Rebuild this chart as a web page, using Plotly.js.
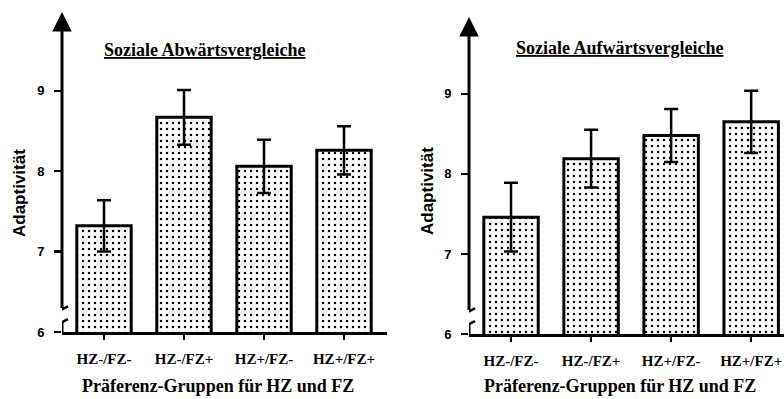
<!DOCTYPE html>
<html>
<head>
<meta charset="utf-8">
<script src="https://cdn.plot.ly/plotly-3.0.1.min.js"></script>
<style>html,body{margin:0;padding:0;background:#fff}#chart{width:784px;height:399px}</style>
</head>
<body>
<div id="chart"></div>
<script>
// ---- data ----
const categories = ['HZ-/FZ-', 'HZ-/FZ+', 'HZ+/FZ-', 'HZ+/FZ+'];
const downValues = [7.32, 8.67, 8.06, 8.26];
const downErrors = [0.32, 0.34, 0.33, 0.30];
const upValues = [7.46, 8.19, 8.48, 8.65];
const upErrors = [0.43, 0.36, 0.33, 0.39];
const yTicks = [6, 7, 8, 9];
const titleLeft = 'Soziale Abwärtsvergleiche';
const titleRight = 'Soziale Aufwärtsvergleiche';
const yTitle = 'Adaptivität';
const xTitle = 'Präferenz-Gruppen für HZ und FZ';

const serif = 'Liberation Serif, Times New Roman, serif';
const sans = 'Liberation Sans, Arial, sans-serif';

function barTrace(vals, errs, xa, ya) {
  return {
    type: 'bar', x: categories, y: vals, xaxis: xa, yaxis: ya, width: 0.68,
    showlegend: false, hoverinfo: 'none',
    marker: {
      color: '#ffffff',
      line: {color: '#000', width: 3},
      pattern: {shape: '.', fgcolor: '#000', bgcolor: '#fff', size: 6, solidity: 0.14, fillmode: 'replace'}
    },
    error_y: {type: 'data', array: errs, visible: true, color: '#000', thickness: 2.5, width: 7}
  };
}

const traces = [barTrace(downValues, downErrors, 'x', 'y'), barTrace(upValues, upErrors, 'x2', 'y2')];

const xLeftRange = [-0.525, 3.5375];
const xRightRange = [-0.525, 3.41];
const yLeftRange = [6, 9.98];
const yRightRange = [6, 9.96];

function xaxisDef(domain, range, anchor) {
  return {
    domain: domain, range: range, anchor: anchor, type: 'category',
    showline: true, linewidth: 3, linecolor: '#000', showgrid: false, zeroline: false,
    ticks: 'outside', ticklen: 5, tickwidth: 2, tickcolor: '#000',
    tickmode: 'array', tickvals: categories, ticktext: categories.map(c => '<b>' + c + '</b>'),
    ticklabelstandoff: 6,
    tickfont: {family: serif, size: 15, color: '#000'},
    fixedrange: true
  };
}
function yaxisDef(domain, range, anchor) {
  return {
    domain: domain, range: range, anchor: anchor,
    showline: false, showgrid: false, zeroline: false,
    tickmode: 'array', tickvals: yTicks, ticktext: yTicks.map(v => '<b>' + v + '</b>'),
    ticks: 'outside', ticklen: 7, tickwidth: 2.5, tickcolor: '#000',
    ticklabelstandoff: 7,
    tickfont: {family: sans, size: 13, color: '#000'},
    fixedrange: true
  };
}

function axisBreak(xref, yref, xAnchor) {
  const seg = (y0, y1, w) => ({type: 'line', xref: xref, yref: yref, xsizemode: 'pixel', xanchor: xAnchor,
    x0: 0, x1: 0, y0: y0, y1: y1, line: {color: '#000', width: w}});
  const slash = (y0, y1) => ({type: 'line', xref: xref, yref: yref, xsizemode: 'pixel', xanchor: xAnchor,
    x0: -7, x1: 6, y0: y0, y1: y1, line: {color: '#000', width: 2.5}});
  return [seg(6, 6.13, 3), slash(6.08, 6.16), slash(6.24, 6.32)];
}

function arrowAxis(xref, yref, xAnchor, yTop) {
  return {xref: xref, yref: yref, axref: xref, ayref: yref, x: xAnchor, y: yTop, ax: xAnchor, ay: 6.28,
    text: '', showarrow: true, arrowhead: 2, arrowsize: 1.3, arrowwidth: 3, arrowcolor: '#000', standoff: 0};
}

const layout = {
  width: 784, height: 399,
  margin: {l: 0, r: 0, t: 0, b: 0},
  paper_bgcolor: '#fff', plot_bgcolor: 'rgba(0,0,0,0)',
  bargap: 0.32,
  xaxis: xaxisDef([62/784, 387/784], xLeftRange, 'y'),
  yaxis: yaxisDef([(399-332)/399, (399-12)/399], yLeftRange, 'x'),
  xaxis2: xaxisDef([469/784, 1], xRightRange, 'y2'),
  yaxis2: yaxisDef([(399-334)/399, (399-17)/399], yRightRange, 'x2'),
  shapes: [].concat(axisBreak('x', 'y', xLeftRange[0]), axisBreak('x2', 'y2', xRightRange[0])),
  annotations: [
    arrowAxis('x', 'y', xLeftRange[0], yLeftRange[1]),
    arrowAxis('x2', 'y2', xRightRange[0], yRightRange[1]),
    {xref: 'paper', yref: 'paper', x: 204/784, y: 1 - 50/399, xanchor: 'center', yanchor: 'middle', showarrow: false,
     text: '<span style="text-decoration:underline"><b>' + titleLeft + '</b></span>',
     font: {family: serif, size: 18, color: '#000'}},
    {xref: 'paper', yref: 'paper', x: 619/784, y: 1 - 48/399, xanchor: 'center', yanchor: 'middle', showarrow: false,
     text: '<span style="text-decoration:underline"><b>' + titleRight + '</b></span>',
     font: {family: serif, size: 18, color: '#000'}},
    {xref: 'paper', yref: 'paper', x: 20/784, y: 1 - 193/399, xanchor: 'center', yanchor: 'middle', showarrow: false,
     textangle: -90, text: '<b>' + yTitle + '</b>', font: {family: sans, size: 17, color: '#000'}},
    {xref: 'paper', yref: 'paper', x: 427/784, y: 1 - 191/399, xanchor: 'center', yanchor: 'middle', showarrow: false,
     textangle: -90, text: '<b>' + yTitle + '</b>', font: {family: sans, size: 17, color: '#000'}},
    {xref: 'paper', yref: 'paper', x: 218/784, y: 1 - 386/399, xanchor: 'center', yanchor: 'middle', showarrow: false,
     text: '<b>' + xTitle + '</b>', font: {family: serif, size: 18, color: '#000'}},
    {xref: 'paper', yref: 'paper', x: 620/784, y: 1 - 386/399, xanchor: 'center', yanchor: 'middle', showarrow: false,
     text: '<b>' + xTitle + '</b>', font: {family: serif, size: 18, color: '#000'}}
  ]
};

Plotly.newPlot('chart', traces, layout, {staticPlot: true, displayModeBar: false});
</script>
</body>
</html>
